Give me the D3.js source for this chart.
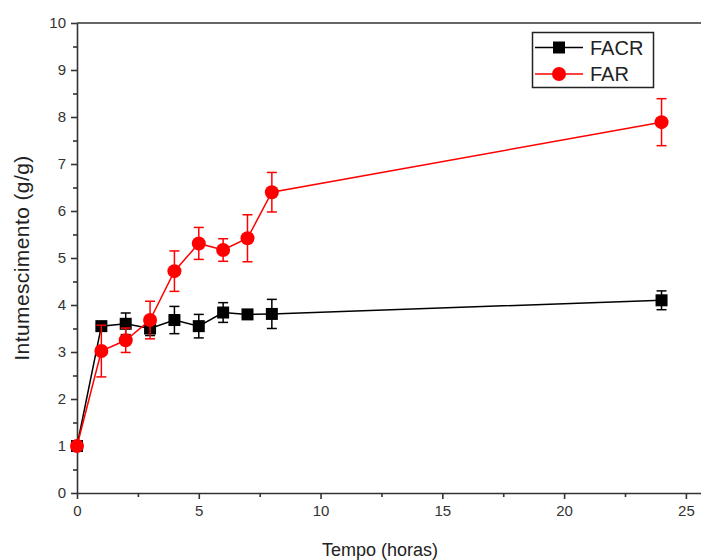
<!DOCTYPE html>
<html lang="en">
    <head>
        <meta charset="utf-8"/>
        <script src="https://d3js.org/d3.v7.min.js"></script>
        <style>
            body { margin: 0; background: #fff; }
            text { font-family: "Liberation Sans", Arial, sans-serif; }
        </style>
    </head>
    <body>
        <div id="chart"></div>
    </body>
    <script>
        // time in hours
        var tempo = [0, 1, 2, 3, 4, 5, 6, 7, 8, 24];

        var facr = [1.0, 3.55, 3.60, 3.50, 3.68, 3.55, 3.84, 3.80, 3.81, 4.10];
        var facrErr = [0, 0.04, 0.23, 0.15, 0.29, 0.25, 0.21, 0.05, 0.31, 0.20];

        var far = [1.0, 3.02, 3.25, 3.68, 4.72, 5.31, 5.17, 5.42, 6.40, 7.89];
        var farErr = [0, 0.55, 0.26, 0.40, 0.43, 0.34, 0.24, 0.50, 0.42, 0.50];

        var xTicks = [0, 5, 10, 15, 20, 25];
        var yTicks = [0, 1, 2, 3, 4, 5, 6, 7, 8, 9, 10];

        var width = 701, height = 560;

        var svg = d3.select("#chart")
            .append("svg")
                .attr("width", width)
                .attr("height", height)

        var x = d3.scaleLinear()
            .domain([0, 25.62])
            .range([77, 701])

        var y = d3.scaleLinear()
            .domain([0, 10])
            .range([493, 23])

        // frame top line
        svg.append("line")
            .attr("x1", x(0)).attr("x2", width)
            .attr("y1", y(10)).attr("y2", y(10))
            .attr("stroke", "#333").attr("stroke-width", 1.6)

        // minor ticks
        var xMinor = d3.range(2.5, 25.1, 5);
        var yMinor = d3.range(0.5, 10, 1);

        svg.append("g")
            .attr("transform", "translate(0," + y(0) + ")")
            .call(d3.axisBottom(x).tickValues(xTicks).tickSize(6).tickPadding(6).tickSizeOuter(0))
        svg.append("g")
            .attr("transform", "translate(0," + y(0) + ")")
            .call(d3.axisBottom(x).tickValues(xMinor).tickSize(4).tickFormat("").tickSizeOuter(0))
            .select(".domain").remove()

        svg.append("g")
            .attr("transform", "translate(" + x(0) + ",0)")
            .call(d3.axisLeft(y).tickValues(yTicks).tickSize(6).tickPadding(5).tickSizeOuter(0))
        svg.append("g")
            .attr("transform", "translate(" + x(0) + ",0)")
            .call(d3.axisLeft(y).tickValues(yMinor).tickSize(4).tickFormat("").tickSizeOuter(0))
            .select(".domain").remove()

        svg.selectAll(".domain, .tick line")
            .attr("stroke", "#333")
            .attr("stroke-width", 1.6)
        svg.selectAll(".tick text")
            .attr("fill", "#333")
            .style("font-size", "15px")
            .style("font-family", "'Liberation Sans', Arial, sans-serif")

        // axis titles
        svg.append("text")
            .attr("x", 380)
            .attr("y", 556)
            .attr("text-anchor", "middle")
            .style("font-size", "18px")
            .attr("fill", "#222")
            .text("Tempo (horas)")

        svg.append("text")
            .attr("transform", "translate(29," + y(5) + ") rotate(-90)")
            .attr("text-anchor", "middle")
            .style("font-size", "21px")
            .style("letter-spacing", "0.4px")
            .attr("fill", "#222")
            .text("Intumescimento (g/g)")

        function drawSeries(vals, errs, color, marker) {
            var g = svg.append("g");
            var line = d3.line()
                .x(function (d, i) { return x(tempo[i]); })
                .y(function (d) { return y(d); })
            g.append("path")
                .datum(vals)
                .attr("d", line)
                .attr("fill", "none")
                .attr("stroke", color)
                .attr("stroke-width", 1.5)

            var eb = g.selectAll(".eb")
                .data(vals)
                .enter()
                .append("g")
            eb.append("line")
                .attr("x1", function (d, i) { return x(tempo[i]); })
                .attr("x2", function (d, i) { return x(tempo[i]); })
                .attr("y1", function (d, i) { return y(d + errs[i]); })
                .attr("y2", function (d, i) { return y(d - errs[i]); })
                .attr("stroke", color).attr("stroke-width", 1.5)
            eb.append("line")
                .attr("x1", function (d, i) { return x(tempo[i]) - 5; })
                .attr("x2", function (d, i) { return x(tempo[i]) + 5; })
                .attr("y1", function (d, i) { return y(d + errs[i]); })
                .attr("y2", function (d, i) { return y(d + errs[i]); })
                .attr("stroke", color).attr("stroke-width", 1.5)
                .attr("display", function (d, i) { return errs[i] > 0 ? null : "none"; })
            eb.append("line")
                .attr("x1", function (d, i) { return x(tempo[i]) - 5; })
                .attr("x2", function (d, i) { return x(tempo[i]) + 5; })
                .attr("y1", function (d, i) { return y(d - errs[i]); })
                .attr("y2", function (d, i) { return y(d - errs[i]); })
                .attr("stroke", color).attr("stroke-width", 1.5)
                .attr("display", function (d, i) { return errs[i] > 0 ? null : "none"; })

            if (marker == "square") {
                g.selectAll(".pt")
                    .data(vals)
                    .enter()
                    .append("rect")
                    .attr("x", function (d, i) { return x(tempo[i]) - 6; })
                    .attr("y", function (d) { return y(d) - 6; })
                    .attr("width", 12).attr("height", 12)
                    .attr("fill", color)
            } else {
                g.selectAll(".pt")
                    .data(vals)
                    .enter()
                    .append("circle")
                    .attr("cx", function (d, i) { return x(tempo[i]); })
                    .attr("cy", function (d) { return y(d); })
                    .attr("r", 7)
                    .attr("fill", color)
            }
        }

        drawSeries(facr, facrErr, "#000", "square");
        drawSeries(far, farErr, "#ff0000", "circle");

        // legend
        var leg = svg.append("g");
        leg.append("rect")
            .attr("x", 532.5).attr("y", 32.5)
            .attr("width", 121).attr("height", 55)
            .attr("fill", "#fff")
            .attr("stroke", "#222").attr("stroke-width", 1.5)
        var legItems = [
            {name: "FACR", color: "#000", marker: "square", yy: 47.5},
            {name: "FAR", color: "#ff0000", marker: "circle", yy: 74}
        ];
        legItems.forEach(function (it) {
            leg.append("line")
                .attr("x1", 535).attr("x2", 583)
                .attr("y1", it.yy).attr("y2", it.yy)
                .attr("stroke", it.color).attr("stroke-width", 1.5)
            if (it.marker == "square") {
                leg.append("rect")
                    .attr("x", 553).attr("y", it.yy - 6)
                    .attr("width", 12).attr("height", 12)
                    .attr("fill", it.color)
            } else {
                leg.append("circle")
                    .attr("cx", 559).attr("cy", it.yy).attr("r", 7)
                    .attr("fill", it.color)
            }
            leg.append("text")
                .attr("x", 590).attr("y", it.yy + 7)
                .style("font-size", "20px")
                .attr("fill", "#222")
                .text(it.name)
        });
    </script>
</html>
